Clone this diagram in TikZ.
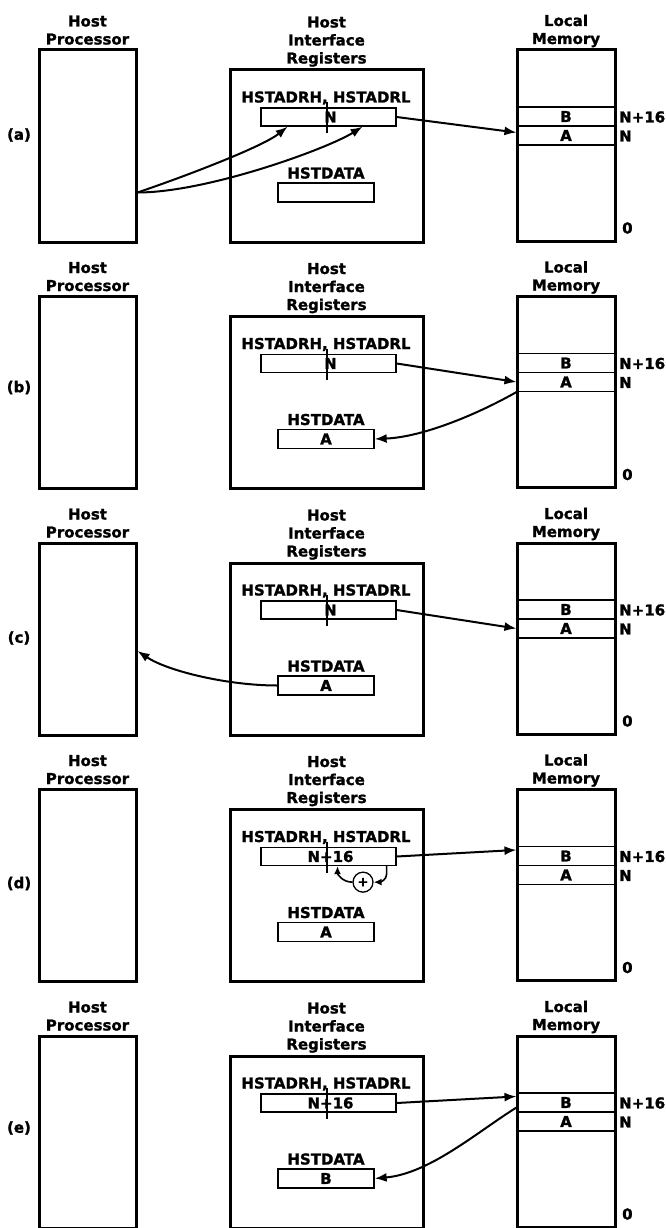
\documentclass[tikz,border=0pt]{standalone}
\usepackage{fontspec}
\setmainfont{DejaVu Sans}[BoldFeatures={FakeBold=1.3}]
\usetikzlibrary{arrows.meta,calc}

\begin{document}
\begin{tikzpicture}[x=1pt,y=-1pt,
  every node/.style={font=\fontsize{15}{18}\selectfont\bfseries,inner sep=0pt},
  frame/.style={draw,line width=3pt},
  reg/.style={draw,line width=1.3pt},
  slot/.style={draw,line width=1.1pt,minimum width=98pt,minimum height=19pt},
  flow/.style={line width=2pt,-{Latex[length=12pt,width=9pt]}},
  small flow/.style={line width=1.6pt,-{Latex[length=8pt,width=7pt]}}]
\fill[white] (0,0) rectangle (665,1228);
\useasboundingbox (0,0) rectangle (665,1228);
% one row of the figure per step
\foreach \p/\adr/\dat/\ly [count=\i from 0] in {a/N//135, b/N/A/141, c/N/A/145, d/N+16/A/144, e/N+16/B/142}{
\begin{scope}[shift={(0,246.5*\i)}]
\node[anchor=base,align=center] (hl-\p) at (87.5,44.5) {Host\\Processor};
\node[frame,minimum width=97pt,minimum height=192pt] (host-\p) at (87.5,146) {};
\node[anchor=base,align=center] (rl-\p) at (326.5,63.5) {Host\\Interface\\Registers};
\node[frame,minimum width=193pt,minimum height=172pt] (hir-\p) at (326.5,156) {};
\node[anchor=base] (al-\p) at (326,102.5) {HSTADRH, HSTADRL};
\draw[line width=1.3pt] (327,102) -- (327,133);
\node[reg,minimum width=135pt,minimum height=18pt] (adr-\p) at (328.5,117) {};
\node (av-\p) at (330.5,117) {\adr};
\node[anchor=base] (dl-\p) at (326,178.5) {HSTDATA};
\node[reg,minimum width=96pt,minimum height=19pt] (dat-\p) at (326,192.5) {\dat};
\node[anchor=base,align=center] (ml-\p) at (566,44) {Local\\Memory};
\node[slot] (rowB-\p) at (566,116.5) {B};
\node[slot] (rowA-\p) at (566,135.5) {A};
\node[frame,minimum width=98pt,minimum height=191pt] (mem-\p) at (566,145.5) {};
\node[anchor=west] (nb-\p) at (619,117) {N+16};
\node[anchor=west] (na-\p) at (619,136) {N};
\node[anchor=west] (nz-\p) at (622,228) {0};
\node (step-\p) at (19,\ly) {(\p)};
\end{scope}
}
% (a)
\draw[flow] (host-a.east |- dat-a) .. controls +(50,-17) and +(-25,20) .. ($(adr-a.south west)!0.2!(adr-a.south east)$);
\draw[flow] (host-a.east |- dat-a) .. controls +(70,0) and +(-35,22) .. ($(adr-a.south west)!0.75!(adr-a.south east)$);
\draw[flow] (adr-a.east) -- ([yshift=3pt]rowA-a.west);
% (b)
\draw[flow] (adr-b.east) -- (rowA-b.west);
\draw[flow] (rowA-b.south west) .. controls +(-35,20) and +(50,-2) .. (dat-b.east);
% (c)
\draw[flow] (adr-c.east) -- (rowA-c.west);
\draw[flow] (dat-c.west) .. controls +(-50,0) and +(30,20) .. ([yshift=-12pt]host-c.east);
% (d)
\draw[flow] (adr-d.east) -- ([yshift=-4pt]rowB-d.north west);
\node[draw,circle,line width=1.3pt,minimum size=20pt,font=\fontsize{13}{13}\selectfont\bfseries] (sum-d) at ($(adr-d.south)+(34.5,16)$) {+};
\draw[small flow] ([xshift=-10pt]adr-d.south east) -- ++(0,8) .. controls +(0,6) and +(6,0) .. (sum-d.east);
\draw[small flow] (sum-d.west) .. controls +(-10,0) and +(0,8) .. ([xshift=9pt]adr-d.south);
% (e)
\draw[flow] (adr-e.east) -- ([yshift=-4pt]rowB-e.north west);
\draw[flow] ([yshift=-5pt]rowB-e.west) .. controls +(-40,25) and +(55,-5) .. (dat-e.east);
\end{tikzpicture}
\end{document}
